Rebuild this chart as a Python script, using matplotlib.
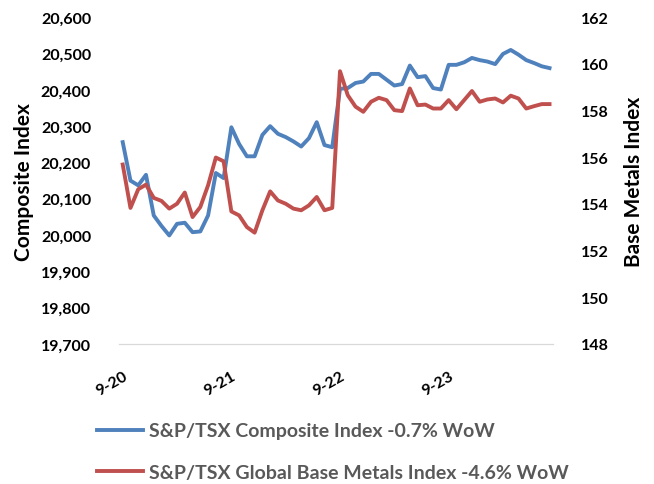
import matplotlib
matplotlib.use("Agg")
import matplotlib.pyplot as plt
import numpy as np

# S&P/TSX Composite vs Global Base Metals, intraday over 4 sessions (14 obs per day)
day_labels = ["9-20", "9-21", "9-22", "9-23"]
obs_per_day = 14

composite = [20256, 20150, 20137, 20166, 20054, 20025, 19999, 20031, 20034, 20008,
             20010, 20054, 20171, 20157, 20297, 20251, 20217, 20217, 20276, 20300,
             20279, 20270, 20258, 20244, 20267, 20311, 20248, 20242, 20403, 20405,
             20419, 20423, 20444, 20444, 20428, 20412, 20416, 20467, 20435, 20438,
             20405, 20401, 20469, 20469, 20476, 20488, 20482, 20478, 20471, 20499,
             20510, 20497, 20482, 20474, 20465, 20460]

base_metals = [155.69, 153.83, 154.63, 154.83, 154.26, 154.13, 153.80, 154.01, 154.49, 153.44,
               153.87, 154.80, 155.99, 155.83, 153.68, 153.51, 153.01, 152.77, 153.73, 154.54,
               154.15, 154.01, 153.80, 153.73, 153.94, 154.30, 153.73, 153.83, 159.69, 158.66,
               158.17, 157.95, 158.38, 158.55, 158.45, 158.02, 157.98, 158.95, 158.23, 158.26,
               158.09, 158.09, 158.45, 158.06, 158.45, 158.84, 158.38, 158.48, 158.52, 158.35,
               158.64, 158.52, 158.09, 158.19, 158.28, 158.28]

plt.rcParams['font.family'] = ['Lato', 'DejaVu Sans']
plt.rcParams['font.weight'] = 'bold'

x = np.arange(len(composite))

fig = plt.figure(figsize=(6.54, 4.85), dpi=100)
ax1 = fig.add_axes([0.1817, 0.2887, 0.6645, 0.6736])
ax2 = ax1.twinx()

l1, = ax1.plot(x, composite, color="#4F81BD", lw=2.8, solid_joinstyle="round")
l2, = ax2.plot(x, base_metals, color="#C0504D", lw=2.8, solid_joinstyle="round")

ax1.set_xlim(-0.5, len(composite) - 0.5)
ax1.set_ylim(19700, 20600)
ax1.set_yticks(np.arange(19700, 20601, 100))
ax1.set_yticklabels([f"{v:,}" for v in range(19700, 20601, 100)])
ax2.set_ylim(148, 162)
ax2.set_yticks(np.arange(148, 163, 2))

ax1.set_xticks(np.arange(len(day_labels)) * obs_per_day)
ax1.set_xticklabels(day_labels, rotation=30, ha="right", rotation_mode="anchor")

for ax in (ax1, ax2):
    for s in ("top", "left", "right"):
        ax.spines[s].set_visible(False)
    ax.spines["bottom"].set_color("#D9D9D9")
    ax.tick_params(length=0, labelsize=11.5, labelcolor="black")
ax1.tick_params(axis="y", pad=20)
ax2.tick_params(axis="y", pad=20)
ax1.tick_params(axis="x", pad=18)

ax1.set_ylabel("Composite Index", fontsize=15, fontweight="bold", labelpad=5)
ax2.set_ylabel("Base Metals Index", fontsize=15, fontweight="bold", labelpad=11)

leg = fig.legend([l1, l2], ["S&P/TSX Composite Index -0.7% WoW",
                            "S&P/TSX Global Base Metals Index -4.6% WoW"],
                 loc="upper left", bbox_to_anchor=(0.148, 0.127), frameon=False,
                 fontsize=14, handlelength=2.4, handletextpad=0.3,
                 labelspacing=1.25, borderpad=0, borderaxespad=0)
for t in leg.get_texts():
    t.set_color("#595959")

fig.savefig("out.png", dpi=100)
